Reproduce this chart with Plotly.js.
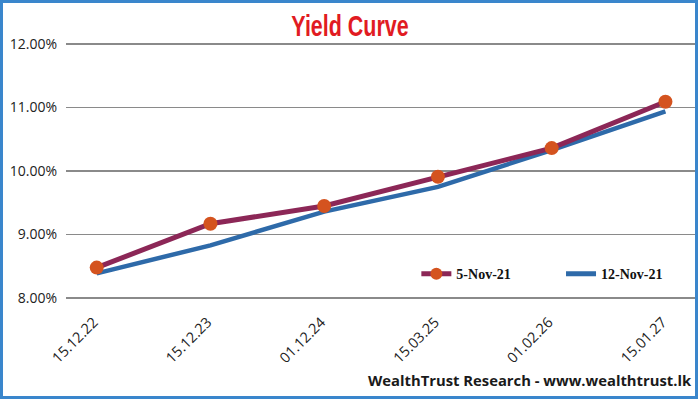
<!DOCTYPE html>
<html>
<head>
<meta charset="utf-8">
<script src="https://cdn.plot.ly/plotly-3.0.1.min.js"></script>
<style>
  html, body { margin: 0; padding: 0; background: #ffffff; }
  #wrap { position: relative; width: 700px; height: 400px; }
  #chart { width: 700px; height: 400px; }
  #frame { position: absolute; left: 0; top: 0; width: 698px; height: 399px; box-sizing: border-box;
           border: 3px solid #3a86cc; pointer-events: none; }
</style>
</head>
<body>
<div id="wrap">
  <div id="chart"></div>
  <div id="frame"></div>
</div>
<script>
// Data
const maturities = ["15.12.22", "15.12.23", "01.12.24", "15.03.25", "01.02.26", "15.01.27"];
const yieldNov5 = [8.48, 9.17, 9.45, 9.91, 10.36, 11.09];
const yieldNov12 = [8.39, 8.83, 9.36, 9.75, 10.33, 10.94];
const seriesNames = ["5-Nov-21", "12-Nov-21"];
const yTickVals = [8, 9, 10, 11, 12];
const yTickText = yTickVals.map(v => v.toFixed(2) + "%");
const titleText = "Yield Curve";
const footerText = "WealthTrust Research - www.wealthtrust.lk";

const traces = [
  {
    x: maturities, y: yieldNov12, name: seriesNames[1], type: "scatter", mode: "lines",
    line: { color: "#2e6aa9", width: 4.5 }, legend: "legend2"
  },
  {
    x: maturities, y: yieldNov5, name: seriesNames[0], type: "scatter", mode: "lines+markers",
    line: { color: "#8c2757", width: 5 },
    marker: { color: "#d4531f", size: 14 }, legend: "legend"
  }
];

const legendFont = { family: "Liberation Serif, Times New Roman, serif", size: 14, weight: "bold", color: "#111111" };

const layout = {
  width: 700, height: 400,
  paper_bgcolor: "#ffffff", plot_bgcolor: "#ffffff",
  margin: { l: 66, r: 5, t: 42, b: 100, pad: 0 },
  title: {
    text: titleText, x: 0.5, xanchor: "center", xref: "container",
    y: 0.935, yanchor: "middle", yref: "container",
    font: { family: "Liberation Sans, Arial, sans-serif", size: 29, weight: "bold", color: "#e11b22" }
  },
  xaxis: {
    type: "category", range: [-0.27, 5.26], showgrid: false, zeroline: false,
    showline: false, ticks: "", tickangle: -45, ticklabelshift: -3, ticklabelstandoff: 10,
    tickfont: { family: "Open Sans, sans-serif", size: 14.5, color: "#222222" }
  },
  yaxis: {
    range: [7.97, 12.03], tickmode: "array", tickvals: yTickVals, ticktext: yTickText,
    showgrid: true, gridcolor: "#8a8a8a", gridwidth: 1.5, zeroline: false, showline: false,
    ticks: "", ticklabelstandoff: 8,
    tickfont: { family: "Open Sans, sans-serif", size: 14, color: "#222222" }
  },
  showlegend: true,
  legend: {
    orientation: "h", itemsizing: "constant",
    x: 0.557, xanchor: "left", y: 0.1, yanchor: "middle",
    bgcolor: "rgba(0,0,0,0)", font: legendFont
  },
  legend2: {
    orientation: "h", itemsizing: "constant",
    x: 0.787, xanchor: "left", y: 0.1, yanchor: "middle",
    bgcolor: "rgba(0,0,0,0)", font: legendFont
  },
  annotations: [
    {
      text: footerText, xref: "paper", yref: "paper", x: 0.998, xanchor: "right",
      y: -0.31, yanchor: "middle", showarrow: false,
      font: { family: "Open Sans, sans-serif", size: 14.8, weight: "bold", color: "#1a1a1a" }
    }
  ]
};

Plotly.newPlot("chart", traces, layout, { displayModeBar: false, staticPlot: true }).then(() => {
  // condense the title horizontally to mimic the narrow display face
  const t = document.querySelector("#chart .gtitle");
  if (t) {
    const bb = t.getBBox();
    const cx = bb.x + bb.width / 2;
    t.setAttribute("transform", `translate(${cx},0) scale(0.74,1) translate(${-cx},0)`);
  }
});
</script>
</body>
</html>
